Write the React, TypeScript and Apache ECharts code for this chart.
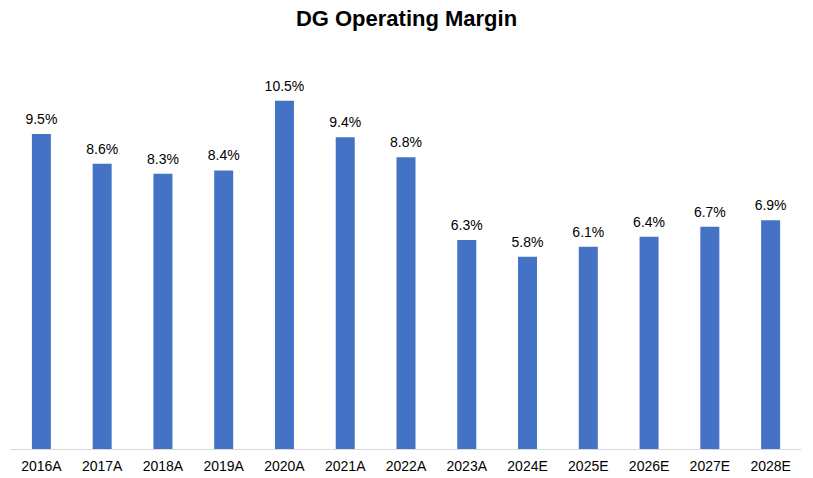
import React, { useEffect, useRef } from "react";
import * as echarts from "echarts";

const categories = ["2016A", "2017A", "2018A", "2019A", "2020A", "2021A", "2022A", "2023A", "2024E", "2025E", "2026E", "2027E", "2028E"];
const margins = [9.5, 8.6, 8.3, 8.4, 10.5, 9.4, 8.8, 6.3, 5.8, 6.1, 6.4, 6.7, 6.9];
const titleText = "DG Operating Margin";

export default function App() {
  const ref = useRef<HTMLDivElement>(null);
  useEffect(() => {
    if (!ref.current) return;
    const chart = echarts.init(ref.current, null, { renderer: "svg" });
    chart.setOption({
      animation: false,
      backgroundColor: "#fff",
      title: {
        text: titleText,
        left: "center",
        top: 2,
        textStyle: { fontFamily: "Liberation Sans, Arial, sans-serif", fontSize: 22, fontWeight: "bold", color: "#000" },
      },
      grid: { left: 11, right: 12, top: 51, bottom: 29, containLabel: false },
      xAxis: {
        type: "category",
        data: categories,
        axisLine: { lineStyle: { color: "#d9d9d9", width: 1 } },
        axisTick: { show: false },
        axisLabel: { color: "#000", fontSize: 14, fontFamily: "Liberation Sans, Arial, sans-serif", margin: 10 },
      },
      yAxis: {
        type: "value",
        min: 0,
        max: 12,
        show: false,
        splitLine: { show: false },
      },
      series: [
        {
          type: "bar",
          data: margins,
          barWidth: 19,
          itemStyle: { color: "#4472C4" },
          label: {
            show: true,
            position: "top",
            distance: 8,
            formatter: (p: any) => p.value.toFixed(1) + "%",
            color: "#000",
            fontSize: 14,
            fontFamily: "Liberation Sans, Arial, sans-serif",
          },
        },
      ],
    });
    return () => chart.dispose();
  }, []);
  return <div ref={ref} style={{ position: "absolute", left: 0, top: 0, width: 813, height: 478 }} />;
}
